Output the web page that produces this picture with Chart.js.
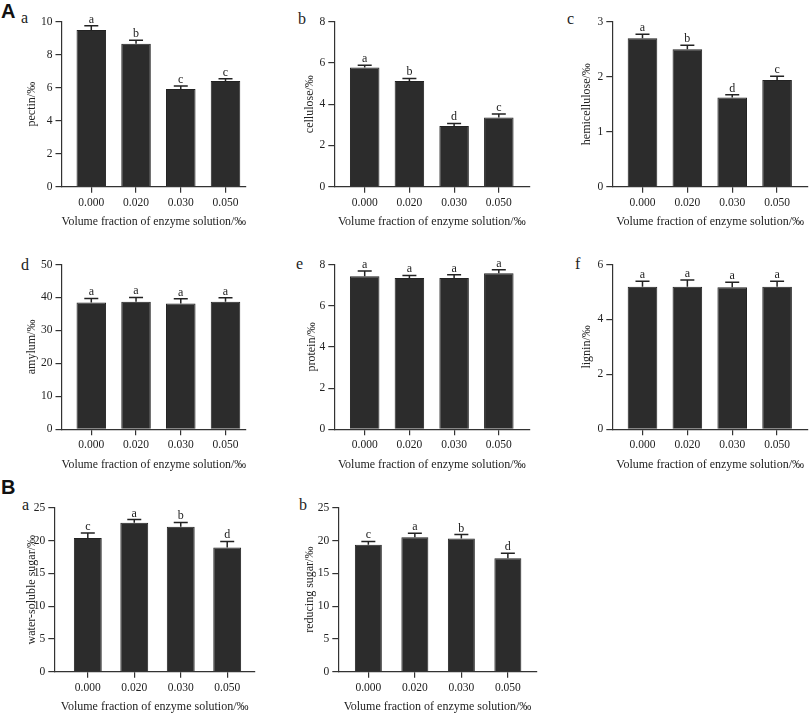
<!DOCTYPE html>
<html>
<head>
<meta charset="utf-8">
<script src="https://cdn.jsdelivr.net/npm/chart.js@4.4.1/dist/chart.umd.min.js"></script>
<style>
  body { margin: 0; background: #fff; }
  #page { position: relative; width: 809px; height: 716px; overflow: hidden; }
  #page canvas { position: absolute; }
  .tag { position: absolute; font-family: "Liberation Serif", serif; font-size: 16px; line-height: 1; color: #222; }
  .big { position: absolute; font-family: "Liberation Sans", Arial, sans-serif; font-weight: bold; font-size: 20px; line-height: 1; color: #111; }
</style>
</head>
<body>
<div id="page"></div>
<script>
// enzyme dose (x categories), shared by every panel
const categories = ['0.000', '0.020', '0.030', '0.050'];
const xTitle = 'Volume fraction of enzyme solution/‰';

const pectin = [9.50, 8.67, 5.92, 6.40];
const pectinErr = [0.26, 0.20, 0.18, 0.15];
const pectinSig = ['a', 'b', 'c', 'c'];

const cellulose = [5.78, 5.13, 2.94, 3.36];
const celluloseErr = [0.11, 0.12, 0.13, 0.16];
const celluloseSig = ['a', 'b', 'd', 'c'];

const hemicellulose = [2.70, 2.50, 1.62, 1.94];
const hemicelluloseErr = [0.07, 0.07, 0.05, 0.07];
const hemicelluloseSig = ['a', 'b', 'd', 'c'];

const amylum = [38.5, 38.7, 38.2, 38.7];
const amylumErr = [1.2, 1.3, 1.4, 1.2];
const amylumSig = ['a', 'a', 'a', 'a'];

const protein = [7.43, 7.34, 7.34, 7.58];
const proteinErr = [0.25, 0.13, 0.16, 0.16];
const proteinSig = ['a', 'a', 'a', 'a'];

const lignin = [5.19, 5.19, 5.17, 5.19];
const ligninErr = [0.20, 0.25, 0.18, 0.20];
const ligninSig = ['a', 'a', 'a', 'a'];

const solubleSugar = [20.4, 22.7, 22.1, 18.95];
const solubleSugarErr = [0.76, 0.50, 0.66, 0.90];
const solubleSugarSig = ['c', 'a', 'b', 'd'];

const reducingSugar = [19.35, 20.5, 20.3, 17.3];
const reducingSugarErr = [0.50, 0.60, 0.60, 0.76];
const reducingSugarSig = ['c', 'a', 'b', 'd'];

// panel placement on the page (pixels) and axis ranges
const panels = [
  { title: 'pectin/‰', v: pectin, e: pectinErr, s: pectinSig, yMax: 10, step: 2,
    axisX: 61.5, titleX: 31.7, top: 21.7, bottom: 186.7, right: 246, xMin: -0.666, xMax: 3.458, bar: 0.66 },
  { title: 'cellulose/‰', v: cellulose, e: celluloseErr, s: celluloseSig, yMax: 8, step: 2,
    axisX: 334.3, titleX: 309.3, top: 21.7, bottom: 186.7, right: 529.3, xMin: -0.68, xMax: 3.682, bar: 0.66 },
  { title: 'hemicellulose/‰', v: hemicellulose, e: hemicelluloseErr, s: hemicelluloseSig, yMax: 3, step: 1,
    axisX: 612.3, titleX: 586.7, top: 21.7, bottom: 186.7, right: 808, xMin: -0.673, xMax: 3.689, bar: 0.66 },
  { title: 'amylum/‰', v: amylum, e: amylumErr, s: amylumSig, yMax: 50, step: 10,
    axisX: 61.5, titleX: 31.7, top: 264.5, bottom: 429.3, right: 246, xMin: -0.666, xMax: 3.458, bar: 0.66 },
  { title: 'protein/‰', v: protein, e: proteinErr, s: proteinSig, yMax: 8, step: 2,
    axisX: 334.3, titleX: 311.3, top: 264.5, bottom: 429.3, right: 529.3, xMin: -0.68, xMax: 3.682, bar: 0.66 },
  { title: 'lignin/‰', v: lignin, e: ligninErr, s: ligninSig, yMax: 6, step: 2,
    axisX: 612.3, titleX: 586.7, top: 264.5, bottom: 429.3, right: 808, xMin: -0.673, xMax: 3.689, bar: 0.66 },
  { title: 'water-soluble sugar/‰', v: solubleSugar, e: solubleSugarErr, s: solubleSugarSig, yMax: 25, step: 5,
    axisX: 54.3, titleX: 31.7, top: 507.7, bottom: 671.7, right: 255, xMin: -0.721, xMax: 3.598, bar: 0.6 },
  { title: 'reducing sugar/‰', v: reducingSugar, e: reducingSugarErr, s: reducingSugarSig, yMax: 25, step: 5,
    axisX: 338.3, titleX: 310, top: 507.7, bottom: 671.7, right: 536.7, xMin: -0.646, xMax: 3.62, bar: 0.58 }
];

// panel letters: [text, left, top, class]
const tags = [
  ['A', 1, 0.7, 'big'], ['B', 1, 476.7, 'big'],
  ['a', 21, 9.9, 'tag'], ['b', 298, 10.6, 'tag'], ['c', 567, 10.6, 'tag'],
  ['d', 21, 256.6, 'tag'], ['e', 296, 256, 'tag'], ['f', 575, 256, 'tag'],
  ['a', 22, 496.6, 'tag'], ['b', 299, 496.6, 'tag']
];

const ink = '#222';
const axisInk = '#333';
const tickFont = { family: '"Liberation Serif", "Times New Roman", serif', size: 11.5 };
const titleFont = { family: '"Liberation Serif", "Times New Roman", serif', size: 12 };

// error bars + significance letters
const errorBars = {
  id: 'errorBars',
  afterDatasetsDraw(chart, args, opts) {
    const ctx = chart.ctx;
    const y = chart.scales.y;
    const meta = chart.getDatasetMeta(0);
    ctx.save();
    ctx.strokeStyle = ink;
    ctx.fillStyle = ink;
    ctx.lineWidth = 1.5;
    ctx.font = '12px "Liberation Serif", serif';
    ctx.textAlign = 'center';
    ctx.textBaseline = 'alphabetic';
    meta.data.forEach(function (bar, i) {
      let y0 = y.getPixelForValue(opts.values[i]);
      let y1 = y.getPixelForValue(opts.values[i] + opts.errs[i]);
      ctx.beginPath();
      ctx.moveTo(bar.x, y0);
      ctx.lineTo(bar.x, y1);
      ctx.moveTo(bar.x - 7, y1);
      ctx.lineTo(bar.x + 7, y1);
      ctx.stroke();
      ctx.fillText(opts.sig[i], bar.x, y1 - 3);
    });
    ctx.restore();
  }
};

const page = document.getElementById('page');

tags.forEach(function (t) {
  let d = document.createElement('div');
  d.className = t[3];
  d.textContent = t[0];
  d.style.left = t[1] + 'px';
  d.style.top = t[2] + 'px';
  page.appendChild(d);
});

panels.forEach(function (p) {
  let left = Math.round(p.titleX - 8.6);
  let top = Math.floor(p.top - 12);
  let width = Math.ceil(p.right + 2 - left);
  let height = Math.ceil(p.bottom - top + 42);
  let yAxisW = p.axisX - left;
  let xAxisH = height - (p.bottom - top);

  let canvas = document.createElement('canvas');
  canvas.width = width;
  canvas.height = height;
  canvas.style.left = left + 'px';
  canvas.style.top = top + 'px';
  canvas.style.width = width + 'px';
  canvas.style.height = height + 'px';
  page.appendChild(canvas);

  new Chart(canvas.getContext('2d'), {
    type: 'bar',
    data: {
      datasets: [{
        data: p.v.map(function (val, i) { return { x: i, y: val }; }),
        backgroundColor: '#2c2c2c',
        borderColor: '#222',
        borderWidth: 1,
        barPercentage: p.bar,
        categoryPercentage: 1
      }]
    },
    options: {
      responsive: false,
      animation: false,
      devicePixelRatio: 1,
      layout: { padding: { top: p.top - top, right: width - (p.right - left), bottom: 0, left: 0 } },
      plugins: {
        legend: { display: false },
        tooltip: { enabled: false },
        errorBars: { values: p.v, errs: p.e, sig: p.s }
      },
      scales: {
        x: {
          type: 'linear',
          min: p.xMin,
          max: p.xMax,
          offset: false,
          afterBuildTicks: function (scale) {
            scale.ticks = categories.map(function (c, i) { return { value: i }; });
          },
          afterFit: function (scale) { scale.height = xAxisH; },
          grid: { offset: false, drawOnChartArea: false, drawTicks: true, tickLength: 6, color: axisInk, lineWidth: 1.2 },
          border: { display: true, color: axisInk, width: 1.2 },
          ticks: {
            autoSkip: false, maxRotation: 0, padding: 3, color: ink, font: tickFont,
            callback: function (v) { return categories[v]; }
          },
          title: { display: true, text: xTitle, color: ink, font: titleFont,
                   padding: { top: 0, bottom: xAxisH - 35.4 - 7.2 } }
        },
        y: {
          min: 0,
          max: p.yMax,
          afterFit: function (scale) { scale.width = yAxisW; },
          grid: { drawOnChartArea: false, drawTicks: true, tickLength: 6, color: axisInk, lineWidth: 1.2 },
          border: { display: true, color: axisInk, width: 1.2 },
          ticks: { stepSize: p.step, padding: 3, color: ink, font: tickFont },
          title: { display: true, text: p.title, color: ink, font: titleFont, padding: { top: 1.5, bottom: 0 } }
        }
      }
    },
    plugins: [errorBars]
  });
});
</script>
</body>
</html>
